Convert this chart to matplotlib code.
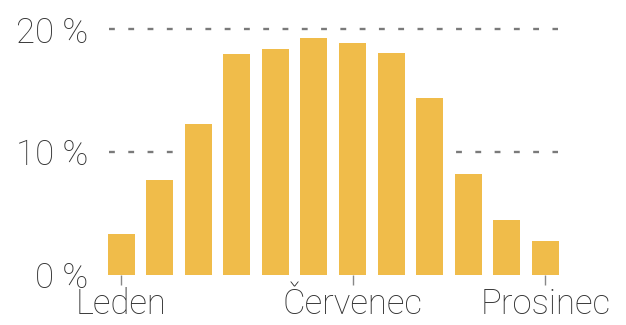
import numpy as np
import matplotlib
matplotlib.use("Agg")
from matplotlib import pyplot as plt

# monthly share (%)
months = ["Leden", "Únor", "Březen", "Duben", "Květen", "Červen",
          "Červenec", "Srpen", "Září", "Říjen", "Listopad", "Prosinec"]
shares = [3.3, 7.7, 12.3, 18.0, 18.4, 19.3, 18.9, 18.1, 14.4, 8.2, 4.5, 2.8]
shown_ticks = [0, 6, 11]
y_ticks = [0, 10, 20]
y_labels = ["0 %", "10 %", "20 %"]

plt.rcParams['font.family'] = ['Roboto', 'DejaVu Sans']
plt.rcParams['lines.scale_dashes'] = False

DPI = 100
fig = plt.figure(figsize=(6.26, 3.25), dpi=DPI)
ax = fig.add_axes([0.1677, 0.1538, 0.7269, 0.794])
xlim = (-0.42, 11.38)
ax.set_xlim(*xlim)
ax.set_ylim(0, 21)

x = np.arange(len(months))
ax.bar(x, shares, width=0.7, color="#F0BC4A", zorder=2)

# dashed gridlines: two dashes per bar step, so they hide behind the bars
unit_pt = 0.7269 * 6.26 * 72 / (xlim[1] - xlim[0])
period = unit_pt / 2
dash = 4.2
d_units = dash / unit_pt
for v in y_ticks[1:]:
    ax.plot([x[0] - 0.25 - d_units / 2, x[-1] + 0.25 + d_units / 2], [v, v],
            color="#7a7a7a", lw=1.7, ls=(0, (dash, period - dash)),
            solid_capstyle="butt", dash_capstyle="butt", zorder=1)

ax.set_yticks(y_ticks)
ax.set_yticklabels(y_labels, fontsize=25, color="#333333", fontweight="light")
ax.set_xticks([x[i] for i in shown_ticks])
ax.set_xticklabels([months[i] for i in shown_ticks], fontsize=25,
                   color="#333333", fontweight="light")
ax.tick_params(axis="y", length=0, pad=12)
ax.tick_params(axis="x", length=7, width=1, color="#888888", pad=2)
for s in ax.spines.values():
    s.set_visible(False)

fig.savefig("out.png", dpi=DPI)
